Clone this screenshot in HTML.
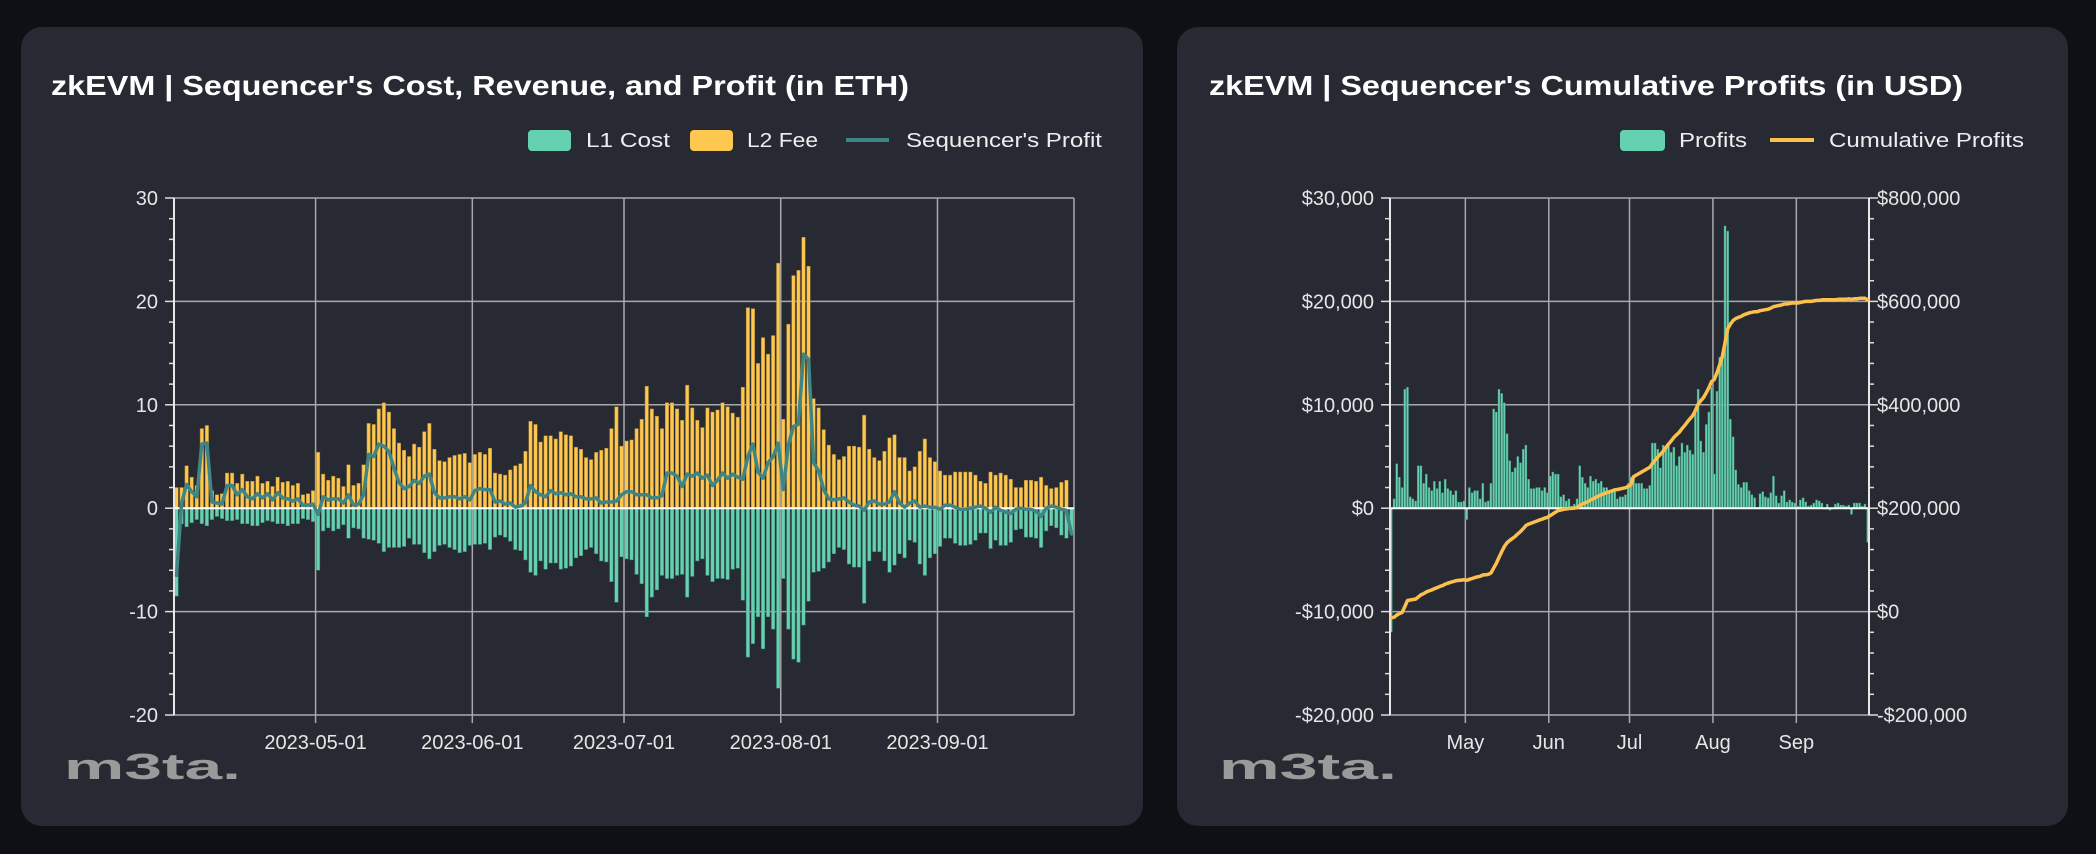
<!DOCTYPE html>
<html><head><meta charset="utf-8"><style>
html,body{margin:0;padding:0;background:#0e1015;}
svg{display:block;font-family:"Liberation Sans",sans-serif;}
</style></head><body>
<svg id="root" width="2096" height="854" viewBox="0 0 2096 854" xmlns="http://www.w3.org/2000/svg">
<rect x="0" y="0" width="2096" height="854" fill="#0e1015"/>
<g>
<rect x="21" y="27" width="1122" height="799" rx="21" fill="#282a33"/>
<text x="51" y="95" font-size="28" font-weight="bold" fill="#fff" textLength="858" lengthAdjust="spacingAndGlyphs">zkEVM | Sequencer's Cost, Revenue, and Profit (in ETH)</text>
<g>
<rect x="528" y="130" width="43" height="21" rx="4" fill="#66d1b1"/>
<text x="586" y="147" font-size="20" fill="#eee" textLength="84" lengthAdjust="spacingAndGlyphs">L1 Cost</text>
<rect x="690" y="130" width="43" height="21" rx="4" fill="#fec74f"/>
<text x="747" y="147" font-size="20" fill="#eee" textLength="71" lengthAdjust="spacingAndGlyphs">L2 Fee</text>
<line x1="846" y1="140" x2="889" y2="140" stroke="#3f8585" stroke-width="4"/>
<text x="906" y="147" font-size="20" fill="#eee" textLength="196" lengthAdjust="spacingAndGlyphs">Sequencer's Profit</text>
</g>
<g id="leftPlot"></g>
<text x="64" y="779" font-size="36" font-weight="bold" fill="#9a9a9a" textLength="177" lengthAdjust="spacingAndGlyphs">m3ta.</text>
</g>
<g>
<rect x="1177" y="27" width="891" height="799" rx="21" fill="#282a33"/>
<text x="1209" y="95" font-size="28" font-weight="bold" fill="#fff" textLength="754" lengthAdjust="spacingAndGlyphs">zkEVM | Sequencer's Cumulative Profits (in USD)</text>
<g>
<rect x="1620" y="130" width="45" height="21" rx="4" fill="#66d1b1"/>
<text x="1679" y="147" font-size="20" fill="#eee" textLength="68" lengthAdjust="spacingAndGlyphs">Profits</text>
<line x1="1770" y1="140" x2="1814" y2="140" stroke="#fcc14c" stroke-width="4"/>
<text x="1829" y="147" font-size="20" fill="#eee" textLength="195" lengthAdjust="spacingAndGlyphs">Cumulative Profits</text>
</g>
<g id="rightPlot"></g>
<text x="1219" y="779" font-size="36" font-weight="bold" fill="#9a9a9a" textLength="178" lengthAdjust="spacingAndGlyphs">m3ta.</text>
</g>
</svg>
<script>
const startDate = '2023-04-03';
const l2Fee = [2.0,2.0,4.1,3.0,2.2,7.7,8.0,1.7,1.3,1.4,3.4,3.4,2.4,3.3,2.6,2.6,3.1,2.4,2.6,2.1,3.0,2.5,2.6,2.2,2.4,1.3,1.4,1.7,
5.4,3.3,2.7,3.1,2.9,2.1,4.2,2.2,2.4,4.2,
8.2,8.1,9.6,10.2,9.3,7.7,6.3,5.6,5.0,6.2,5.9,7.4,8.2,5.7,4.6,4.5,4.9,5.1,5.2,5.3,4.4,5.2,5.4,5.2,5.8,3.4,3.3,3.2,3.7,4.1,4.3,5.5,8.4,8.1,6.4,7.0,7.0,6.7,7.4,7.1,7.0,5.9,5.7,4.9,4.7,5.4,5.6,5.8,7.7,9.8,6.0,6.5,
6.6,7.7,8.6,11.8,9.6,8.9,7.7,10.2,10.2,9.6,8.5,11.9,9.7,8.5,7.8,9.7,9.3,9.5,10.2,9.8,9.2,8.8,11.7,19.4,19.3,14.0,16.5,14.9,16.7,23.7,8.6,17.8,22.5,23.0,26.2,23.4,10.6,9.7,7.6,6.1,5.2,4.7,5.0,6.0,6.0,5.9,9.0,5.7,4.9,4.6,5.5,6.8,7.1,4.9,4.9,3.6,4.0,5.5,6.7,4.9,4.5,3.6,3.2,3.2,3.5,3.5,3.5,3.5,3.2,2.6,2.4,3.5,3.2,3.4,3.2,2.8,2.0,2.0,2.7,2.7,2.6,3.0,2.2,1.9,2.0,2.5,2.7,0];
const l1Cost = [-8.5,-1.5,-1.8,-1.4,-1.1,-1.5,-1.7,-1.1,-0.8,-1.0,-1.2,-1.2,-1.1,-1.5,-1.5,-1.7,-1.7,-1.4,-1.2,-1.3,-1.5,-1.5,-1.7,-1.5,-1.5,-1.0,-1.1,-1.3,
-6.0,-2.2,-1.9,-2.2,-2.0,-1.6,-2.9,-1.9,-2.0,-2.9,
-3.0,-3.1,-3.4,-4.2,-3.8,-3.8,-3.8,-3.7,-2.9,-3.5,-3.5,-4.3,-4.9,-4.2,-3.6,-3.5,-3.8,-4.0,-4.3,-4.2,-3.6,-3.5,-3.5,-3.4,-4.0,-2.8,-2.6,-2.8,-3.2,-4.0,-4.1,-5.0,-6.2,-6.5,-5.1,-5.9,-5.3,-5.3,-5.9,-5.8,-5.6,-4.8,-4.6,-4.0,-3.8,-4.4,-5.1,-5.2,-7.1,-9.1,-4.7,-4.9,
-5.0,-6.4,-7.3,-10.5,-8.6,-7.9,-6.5,-6.8,-6.8,-6.5,-6.4,-8.6,-6.6,-5.1,-4.9,-6.5,-7.1,-6.8,-6.8,-6.9,-5.9,-5.8,-8.9,-14.4,-13.1,-10.5,-13.6,-10.5,-11.7,-17.4,-6.8,-11.7,-14.6,-14.9,-11.3,-9.0,-6.2,-6.1,-5.8,-5.2,-4.4,-3.8,-4.0,-5.4,-5.7,-5.7,-9.2,-5.1,-4.2,-4.2,-5.1,-6.2,-5.5,-4.4,-4.8,-3.1,-3.3,-5.4,-6.5,-4.8,-4.4,-3.7,-2.9,-2.9,-3.4,-3.6,-3.6,-3.5,-3.1,-2.4,-2.4,-3.9,-3.1,-3.6,-3.6,-3.3,-2.1,-2.0,-2.8,-2.8,-2.9,-3.8,-2.2,-1.7,-1.9,-2.6,-2.9,-2.5];
const seqProfit = [-6.5,0.5,2.3,1.6,1.1,6.2,6.3,0.6,0.5,0.4,2.2,2.2,1.3,1.8,1.1,0.9,1.4,1.0,1.4,0.8,1.5,1.0,0.9,0.7,0.9,0.3,0.3,0.4,
-0.6,1.1,0.8,0.9,0.9,0.5,1.3,0.3,0.4,1.3,
5.2,5.0,6.2,6.0,5.5,3.9,2.5,1.9,2.1,2.7,2.4,3.1,3.3,1.5,1.0,1.0,1.1,1.1,0.9,1.1,0.8,1.7,1.9,1.8,1.8,0.6,0.7,0.4,0.5,0.1,0.2,0.5,2.2,1.6,1.3,1.1,1.7,1.4,1.5,1.3,1.4,1.1,1.1,0.9,0.9,1.0,0.5,0.6,0.6,0.7,1.3,1.6,
1.6,1.3,1.3,1.3,1.0,1.0,1.2,3.4,3.4,3.1,2.1,3.3,3.1,3.4,2.9,3.2,2.2,2.7,3.4,2.9,3.3,3.0,2.8,5.0,6.2,3.5,2.9,4.4,5.0,6.3,1.8,6.1,7.9,8.1,14.9,14.4,4.4,3.6,1.8,0.9,0.8,0.9,1.0,0.6,0.3,0.2,-0.2,0.6,0.7,0.4,0.4,0.6,1.6,0.5,0.1,0.5,0.7,0.1,0.2,0.1,0.1,-0.1,0.3,0.3,0.1,-0.1,-0.1,0.0,0.1,0.2,0.0,-0.4,0.1,-0.2,-0.4,-0.5,-0.1,0.0,-0.1,-0.1,-0.3,-0.8,0.0,0.2,0.1,-0.1,-0.2,-2.5];
const leftYTicks = [30,20,10,0,-10,-20];
const leftXTicks = ['2023-05-01','2023-06-01','2023-07-01','2023-08-01','2023-09-01'];

const profitsUsdK = [-12.0,0.9,4.3,3.0,2.0,11.5,11.7,1.1,0.9,0.7,4.1,4.1,2.4,3.3,2.0,1.7,2.6,1.9,2.6,1.5,2.8,1.9,1.7,1.3,1.7,0.6,0.6,0.7,
-1.1,2.0,1.5,1.7,1.7,0.9,2.4,0.6,0.7,2.4,
9.6,9.3,11.5,11.1,10.2,7.2,4.6,3.5,3.9,5.0,4.4,5.7,6.1,2.8,1.9,1.9,2.0,2.0,1.7,2.0,1.5,3.1,3.5,3.3,3.3,1.1,1.3,0.7,0.9,0.2,0.4,0.9,4.1,3.0,2.4,2.0,3.1,2.6,2.8,2.4,2.6,2.0,2.0,1.7,1.7,1.9,0.9,1.1,1.1,1.3,2.4,3.0,
3.0,2.4,2.4,2.4,1.9,1.9,2.2,6.3,6.3,5.7,3.9,6.1,5.7,6.3,5.4,5.9,4.1,5.0,6.3,5.4,6.1,5.6,5.2,9.3,11.5,6.5,5.4,8.1,9.3,11.7,3.3,11.3,14.6,15.0,27.3,26.8,
8.6,6.9,3.7,2.3,2.0,2.5,2.5,1.7,1.3,1.0,0.1,1.4,1.6,1.1,1.0,1.5,3.1,1.2,0.5,1.2,1.7,0.6,0.8,0.6,0.5,0.2,0.8,1.0,0.6,0.2,0.3,0.5,0.8,0.7,0.5,-0.1,0.4,-0.2,-0.1,0.4,0.5,0.3,0.3,0.2,0.3,-0.6,0.5,0.5,0.5,0.2,0.4,-3.3];
const cumulativeUsdK = [-12.0,-11.1,-6.8,-3.8,-1.8,9.7,21.4,22.5,23.4,24.1,28.2,32.3,34.7,38.0,40.0,41.7,44.3,46.2,48.8,50.3,53.1,55.0,56.7,58.0,59.7,60.3,60.9,61.6,
60.5,62.5,64.0,65.7,67.4,68.3,70.7,71.3,72.0,74.4,
84.0,93.3,104.8,115.9,126.1,133.3,137.9,141.4,145.3,150.3,154.7,160.4,166.5,169.3,171.2,173.1,175.1,177.1,178.8,180.8,182.3,185.4,188.9,192.2,195.5,196.6,197.9,198.6,199.5,199.7,200.1,201.0,205.1,208.1,210.5,212.5,215.6,218.2,221.0,223.4,226.0,228.0,230.0,231.7,233.4,235.3,236.2,237.3,238.4,239.7,242.1,245.1,
261,264,267,270,273,276,279,286,293,299,304,310,317,324,330,337,342,347,354,360,367,373,379,389,401,408,414,423,433,445,449,462,477,493,520,547,
556,563,567,569,571,574,576,578,579,580,580,582,583,584,585,587,590,591,592,593,595,595,596,597,597,597,598,599,600,600,600,601,602,602,603,603,603,603,603,603,604,604,604,604,605,604,605,605,606,606,606,603];
const rightLeftTicks = [30,20,10,0,-10,-20];
const rightRightTicks = [800,600,400,200,0,-200];
const rightXTicks = ['2023-05-01','2023-06-01','2023-07-01','2023-08-01','2023-09-01'];
const rightXTickNames = ['May','Jun','Jul','Aug','Sep'];

const NS = 'http://www.w3.org/2000/svg';
function mk(parent, tag, attrs, text){
  const e = document.createElementNS(NS, tag);
  for (const k in attrs) e.setAttribute(k, attrs[k]);
  if (text !== undefined) e.textContent = text;
  parent.appendChild(e);
  return e;
}
function dayIndex(d){ return Math.round((new Date(d+'T00:00:00Z') - new Date(startDate+'T00:00:00Z'))/86400000); }

// ---------- LEFT CHART ----------
(function(){
  const g = document.getElementById('leftPlot');
  const L=174, R=1074, T=198, B=715, yMax=30, yMin=-20;
  const n = l2Fee.length, band=(R-L)/n;
  const x = i => L + (i+0.5)*band;
  const y = v => T + (yMax-v)/(yMax-yMin)*(B-T);
  leftYTicks.forEach(t=>{
    const gl = mk(g,'line',{x1:L,x2:R,y1:y(t),y2:y(t),stroke:'#a9a9a9','stroke-width':1.5});
    
    
    const lb = mk(g,'text',{x:158,y:y(t)+7,'text-anchor':'end','font-size':20,fill:'#e6e6e6'},String(t));
    
    
    mk(g,'line',{x1:L-9,x2:L,y1:y(t),y2:y(t),stroke:'#ddd','stroke-width':1.5});
  });
  for(let v=yMin; v<=yMax; v+=2){ if(v%10!==0) mk(g,'line',{x1:L-5,x2:L,y1:y(v),y2:y(v),stroke:'#ddd','stroke-width':1.5}); }
  leftXTicks.forEach(d=>{
    const xx = x(dayIndex(d)) - band/2;
    const gl = mk(g,'line',{x1:xx,x2:xx,y1:T,y2:B+8,stroke:'#a9a9a9','stroke-width':1.5});
    
    
    const lb = mk(g,'text',{x:xx,y:749,'text-anchor':'middle','font-size':20,fill:'#e6e6e6'},d);
    
    
  });
  mk(g,'line',{x1:R,x2:R,y1:T,y2:B,stroke:'#a9a9a9','stroke-width':1.5});
  const bw = band*0.68;
  l2Fee.forEach((v,i)=>{
    const r = mk(g,'rect',{x:x(i)-bw/2,y:Math.min(y(v),y(0)),width:bw,height:Math.abs(y(v)-y(0)),fill:'#fec74f',stroke:'#a88535','stroke-width':0.5});
    
    
  });
  l1Cost.forEach((v,i)=>{
    const r = mk(g,'rect',{x:x(i)-bw/2,y:Math.min(y(v),y(0)),width:bw,height:Math.abs(y(v)-y(0)),fill:'#66d1b1',stroke:'#3f8a74','stroke-width':0.5});
    
    
  });
  const z = mk(g,'line',{x1:L,x2:R,y1:y(0),y2:y(0),stroke:'#ffffff','stroke-width':2});
  
  
  mk(g,'line',{x1:L,x2:L,y1:T,y2:B,stroke:'#e8e8e8','stroke-width':2});
  const pts = seqProfit.map((v,i)=>x(i).toFixed(1)+','+y(v).toFixed(1)).join(' ');
  const pl = mk(g,'polyline',{points:pts,fill:'none',stroke:'#3f8585','stroke-width':3.5,'stroke-linejoin':'round','stroke-linecap':'round'});
  
  
})();

// ---------- RIGHT CHART ----------
(function(){
  const g = document.getElementById('rightPlot');
  const L=1390, R=1869, T=198, B=715;
  const n = profitsUsdK.length, band=(R-L)/n;
  const x = i => L + (i+0.5)*band;
  const y = v => T + (30-v)/50*(B-T);
  const y2 = v => T + (800-v)/1000*(B-T);
  rightLeftTicks.forEach(t=>{
    const gl = mk(g,'line',{x1:L,x2:R,y1:y(t),y2:y(t),stroke:'#a9a9a9','stroke-width':1.5});
    
    
    const lbl = (t<0?'-$':'$') + (Math.abs(t)*1000).toLocaleString('en-US');
    const lb = mk(g,'text',{x:1374,y:y(t)+7,'text-anchor':'end','font-size':20,fill:'#e6e6e6'},lbl);
    
    
    mk(g,'line',{x1:L-9,x2:L,y1:y(t),y2:y(t),stroke:'#ddd','stroke-width':1.5});
  });
  for(let v=-20; v<=30; v+=2){ if(v%10!==0) mk(g,'line',{x1:L-5,x2:L,y1:y(v),y2:y(v),stroke:'#ddd','stroke-width':1.5}); }
  rightRightTicks.forEach(t=>{
    const lbl = (t<0?'-$':'$') + (Math.abs(t)*1000).toLocaleString('en-US');
    const lb = mk(g,'text',{x:1877,y:y2(t)+7,'text-anchor':'start','font-size':20,fill:'#e6e6e6'},lbl);
    
    
    mk(g,'line',{x1:R,x2:R+9,y1:y2(t),y2:y2(t),stroke:'#ddd','stroke-width':1.5});
  });
  for(let v=-200; v<=800; v+=40){ if(v%200!==0) mk(g,'line',{x1:R,x2:R+5,y1:y2(v),y2:y2(v),stroke:'#ddd','stroke-width':1.5}); }
  rightXTicks.forEach((d,k)=>{
    const xx = x(dayIndex(d)) - band/2;
    const gl = mk(g,'line',{x1:xx,x2:xx,y1:T,y2:B+8,stroke:'#a9a9a9','stroke-width':1.5});
    
    
    const lb = mk(g,'text',{x:xx,y:749,'text-anchor':'middle','font-size':20,fill:'#e6e6e6'},rightXTickNames[k]);
    
    
  });
  const bw = band*0.75;
  profitsUsdK.forEach((v,i)=>{
    const r = mk(g,'rect',{x:x(i)-bw/2,y:Math.min(y(v),y(0)),width:bw,height:Math.max(0.5,Math.abs(y(v)-y(0))),fill:'#66d1b1',stroke:'#3f8a74','stroke-width':0.4});
    
    
  });
  const z = mk(g,'line',{x1:L,x2:R,y1:y(0),y2:y(0),stroke:'#ffffff','stroke-width':2});
  
  
  mk(g,'line',{x1:L,x2:L,y1:T,y2:B,stroke:'#e8e8e8','stroke-width':2});
  mk(g,'line',{x1:R,x2:R,y1:T,y2:B,stroke:'#e8e8e8','stroke-width':2});
  const pts = cumulativeUsdK.map((v,i)=>x(i).toFixed(1)+','+y2(v).toFixed(1)).join(' ');
  const pl = mk(g,'polyline',{points:pts,fill:'none',stroke:'#fcc14c','stroke-width':3.5,'stroke-linejoin':'round','stroke-linecap':'round'});
  
  
})();
</script>
</body></html>
